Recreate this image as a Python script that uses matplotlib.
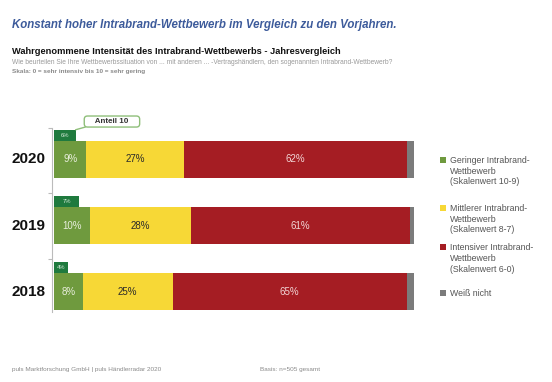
import numpy as np
import matplotlib.pyplot as plt

plt.rcParams['font.family'] = ['Liberation Sans', 'DejaVu Sans']

jahre = ['2018', '2019', '2020']
gering = [8, 10, 9]
mittel = [25, 28, 27]
intensiv = [65, 61, 62]
weiss_nicht = [2, 1, 2]
anteil_10 = [4, 7, 6]

legende = ['Geringer Intrabrand-\nWettbewerb\n(Skalenwert 10-9)',
           'Mittlerer Intrabrand-\nWettbewerb\n(Skalenwert 8-7)',
           'Intensiver Intrabrand-\nWettbewerb\n(Skalenwert 6-0)',
           'Weiß nicht']

c_gruen = '#6f9a3e'
c_dunkel = '#1f7a3e'
c_gelb = '#f7d836'
c_rot = '#a51d23'
c_grau = '#7b7b7b'
farben = [c_gruen, c_gelb, c_rot, c_grau]

fig = plt.figure(figsize=(5.52, 3.82), dpi=100)
W, H = 552, 382

def px(x, y):
    return x / W, 1 - y / H

# texte oben
fig.text(*px(12, 25), 'Konstant hoher Intrabrand-Wettbewerb im Vergleich zu den Vorjahren.',
         color='#3d5b9b', fontsize=8.3, fontweight='bold', style='italic', va='center')
fig.text(*px(12, 52), 'Wahrgenommene Intensität des Intrabrand-Wettbewerbs - Jahresvergleich',
         color='#111111', fontsize=6.7, fontweight='bold', va='center')
fig.text(*px(12, 63), 'Wie beurteilen Sie Ihre Wettbewerbssituation von ... mit anderen ... -Vertragshändlern, den sogenannten Intrabrand-Wettbewerb?',
         color='#9a9a9a', fontsize=4.8, va='center')
fig.text(*px(12, 71), 'Skala: 0 = sehr intensiv bis 10 = sehr gering',
         color='#8a8a8a', fontsize=4.6, fontweight='bold', va='center')

# fusszeile
fig.text(*px(12, 369), 'puls Marktforschung GmbH | puls Händlerradar 2020', color='#8a8a8a', fontsize=4.6, va='center')
fig.text(*px(260, 369), 'Basis: n=505 gesamt', color='#8a8a8a', fontsize=4.6, va='center')

# achse
l, b = px(54, 312)
r, t = px(414, 128)
ax = fig.add_axes([l, b, r - l, t - b])
ax.set_xlim(0, 100)
ax.set_ylim(-0.31, 2.477)

y = np.arange(len(jahre))
h = 0.56
links = np.zeros(len(jahre))
for werte, farbe in zip([gering, mittel, intensiv, weiss_nicht], farben):
    ax.barh(y, werte, left=links, height=h, color=farbe, edgecolor='none')
    links = links + np.array(werte)

ax.barh(y + 0.364, anteil_10, height=0.167, color=c_dunkel, edgecolor='none')

for i in range(len(jahre)):
    ax.text(gering[i] / 2, y[i], f'{gering[i]}%', ha='center', va='center', color='#e8eedc', fontsize=7)
    ax.text(gering[i] + mittel[i] / 2, y[i], f'{mittel[i]}%', ha='center', va='center', color='#2a2a2a', fontsize=7)
    ax.text(gering[i] + mittel[i] + intensiv[i] / 2, y[i], f'{intensiv[i]}%', ha='center', va='center', color='#f2d6d6', fontsize=7)
    ax.text(anteil_10[i] / 2, y[i] + 0.364, f'{anteil_10[i]}%', ha='center', va='center', color='#d8eadb', fontsize=4.2)
    ax.text(-2.5, y[i], jahre[i], ha='right', va='center', fontsize=11, fontweight='bold', color='#111111')

for s in ['top', 'right', 'bottom']:
    ax.spines[s].set_visible(False)
ax.spines['left'].set_color('#bbbbbb')
ax.spines['left'].set_linewidth(0.8)
ax.spines['left'].set_position(('data', -0.5))
ax.set_xticks([])
ax.set_yticks([0.5, 1.5, 2.477])
ax.set_yticklabels([])
ax.tick_params(axis='y', length=3, color='#bbbbbb', width=0.8)

# callout Anteil 10
ax.annotate('    Anteil 10    ', xy=(6.0, 2.45), xytext=(16.1, 2.575), ha='center', va='center',
            fontsize=5.8, fontweight='bold', color='#333333', annotation_clip=False,
            bbox=dict(boxstyle='round,pad=0.25,rounding_size=0.4', fc='white', ec='#8fbf7a', lw=1.0),
            arrowprops=dict(arrowstyle='-', color='#8fbf7a', lw=1.0, shrinkA=0, shrinkB=0,
                            relpos=(0.12, 0.0)))

# legende
leg_y = [160, 208, 247, 293]
for txt, farbe, yy in zip(legende, farben, leg_y):
    fig.patches.append(plt.Rectangle(px(440, yy + 3), 6 / W, 6 / H, transform=fig.transFigure,
                                     facecolor=farbe, edgecolor='none'))
    fig.text(*px(450, yy - 4), txt, color='#555555', fontsize=6.3, va='top', linespacing=1.25)

fig.savefig('out.png', dpi=100)
